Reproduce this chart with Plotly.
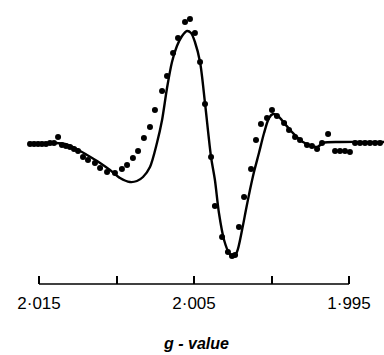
import plotly.graph_objects as go

# Solid line (calculated spectrum): g-value vs intensity (arbitrary units)
line_g = [2.01571, 2.01461, 2.01390, 2.01332, 2.01281, 2.01190, 2.01106, 2.01042,
          2.00977, 2.00913, 2.00868, 2.00829, 2.00784, 2.00739, 2.00706, 2.00674,
          2.00642, 2.00610, 2.00577, 2.00545, 2.00519, 2.00494, 2.00461, 2.00429,
          2.00390, 2.00365, 2.00339, 2.00306, 2.00274, 2.00248, 2.00223, 2.00190,
          2.00165, 2.00139, 2.00113, 2.00081, 2.00048, 2.00016, 1.99990, 1.99958,
          1.99913, 1.99868, 1.99797, 1.99706, 1.99668, 1.99558, 1.99274]
line_i = [1, 1, 1, 0, -3, -11, -19, -26,
          -34, -38, -37, -33, -23, 1, 24, 56,
          82, 98, 108, 113, 111, 102, 82, 41,
          -13, -36, -69, -96, -109, -113, -108, -86,
          -66, -46, -28, -9, 11, 26, 30, 28,
          20, 12, 2, -3, 1, 2, 2]

# Dots (experimental spectrum)
dot_g = [2.01558, 2.01532, 2.01506, 2.01481, 2.01455, 2.01429, 2.01403, 2.01377,
         2.01352, 2.01326, 2.01300, 2.01274, 2.01248, 2.01216, 2.01184, 2.01139,
         2.01106, 2.01061, 2.01010, 2.00965, 2.00932, 2.00894, 2.00861, 2.00823,
         2.00784, 2.00752, 2.00706, 2.00674, 2.00635, 2.00603, 2.00558, 2.00526,
         2.00494, 2.00461, 2.00429, 2.00390, 2.00365, 2.00319, 2.00281, 2.00255,
         2.00235, 2.00210, 2.00177, 2.00132, 2.00100, 2.00068, 2.00029, 1.99997,
         1.99965, 1.99919, 1.99887, 1.99848, 1.99816, 1.99771, 1.99739, 1.99706,
         1.99674, 1.99635, 1.99590, 1.99558, 1.99526, 1.99494, 1.99461, 1.99429,
         1.99397, 1.99365, 1.99332, 1.99300]
dot_i = [0, 0, 0, 0, 0, 1, 1, 7,
         -1, -2, -3, -5, -7, -13, -16, -19,
         -24, -28, -29, -25, -21, -14, -7, 6,
         17, 34, 53, 68, 91, 106, 122, 125,
         111, 82, 40, -13, -62, -93, -108, -112,
         -111, -83, -53, -25, 4, 20, 26, 34,
         28, 21, 14, 7, 4, -1, -2, -5,
         1, 10, -7, -7, -7, -8, 1, 1,
         1, 1, 1, 1]

tick_vals = [2.015, 2.010, 2.005, 2.000, 1.995]
tick_text = ["2·015", "", "2·005", "", "1·995"]
x_range = [2.017516, 1.992742]
y_range = [-140, 144]

fig = go.Figure()
fig.add_trace(go.Scatter(x=line_g, y=line_i, mode="lines",
                         line=dict(color="black", width=2.4, shape="spline", smoothing=0.8),
                         showlegend=False, hoverinfo="skip"))
fig.add_trace(go.Scatter(x=dot_g, y=dot_i, mode="markers",
                         marker=dict(color="black", size=6),
                         showlegend=False, cliponaxis=False))

fig.add_shape(type="line", xref="x", yref="paper",
              x0=tick_vals[0], x1=tick_vals[-1], y0=0, y1=0,
              line=dict(color="black", width=1.5))

fig.add_annotation(text="<b><i>g - value</i></b>", xref="paper", yref="paper",
                   x=0.51, y=-0.21, xanchor="center", yanchor="middle",
                   showarrow=False, font=dict(family="Liberation Sans", size=16, color="black"))

fig.update_layout(
    width=384, height=355,
    margin=dict(l=0, r=0, t=0, b=71),
    paper_bgcolor="white", plot_bgcolor="white",
    xaxis=dict(range=x_range, tickvals=tick_vals, ticktext=tick_text,
               ticks="inside", ticklen=8, tickwidth=1.5, tickcolor="black",
               ticklabelstandoff=7,
               showline=False, showgrid=False, zeroline=False,
               tickfont=dict(family="Liberation Sans", size=17, color="black")),
    yaxis=dict(range=y_range, visible=False, showgrid=False, zeroline=False),
)

fig.write_html("out.html")
